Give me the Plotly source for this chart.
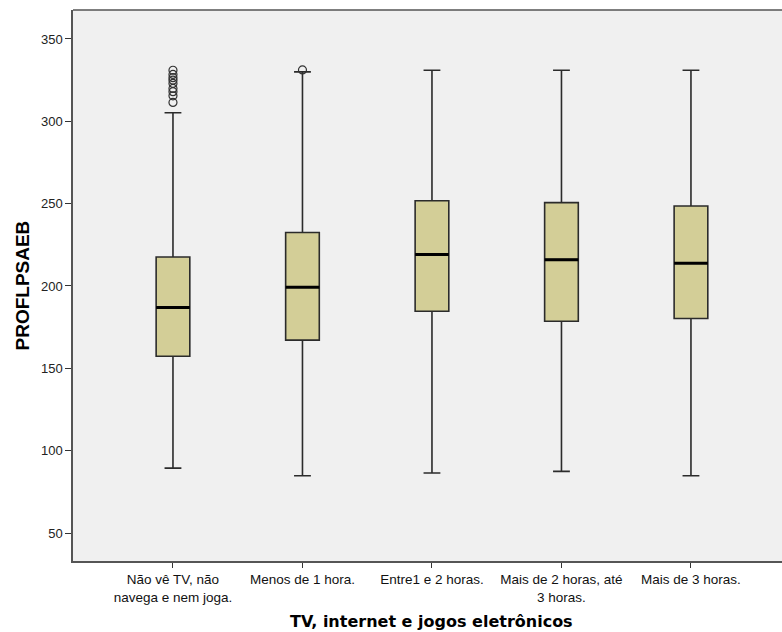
import plotly.graph_objects as go

# Boxplot summary of PROFLPSAEB by daily screen time
categories = [
    "Não vê TV, não<br>navega e nem joga.",
    "Menos de 1 hora.",
    "Entre1 e 2 horas.",
    "Mais de 2 horas, até<br>3 horas.",
    "Mais de 3 horas.",
]
lower_fence = [89.4, 84.8, 86.4, 87.4, 84.8]
q1 = [157.3, 167.1, 184.7, 178.6, 180.3]
median = [187.0, 199.3, 219.2, 216.0, 213.8]
q3 = [217.6, 232.5, 251.8, 250.6, 248.6]
upper_fence = [305.2, 330.0, 331.0, 331.0, 331.0]
outliers = [
    [311.5, 315.5, 318.0, 320.0, 323.0, 325.0, 326.5, 328.5, 331.0],
    [331.2],
    [],
    [],
    [],
]

positions = list(range(len(categories)))
box_width = 0.26

fig = go.Figure()

fig.add_trace(go.Box(
    x=positions,
    q1=q1,
    median=median,
    q3=q3,
    lowerfence=lower_fence,
    upperfence=upper_fence,
    width=box_width,
    whiskerwidth=0.5,
    fillcolor="#D3CE97",
    line=dict(color="#2b2b2b", width=1.6),
    boxpoints=False,
    hoverinfo="skip",
    showlegend=False,
))

# Thick median bars
for xi, m in zip(positions, median):
    fig.add_trace(go.Scatter(
        x=[xi - box_width / 2, xi + box_width / 2],
        y=[m, m],
        mode="lines",
        line=dict(color="#000000", width=3),
        hoverinfo="skip",
        showlegend=False,
    ))

# Outlying observations
for xi, pts in zip(positions, outliers):
    if pts:
        fig.add_trace(go.Scatter(
            x=[xi] * len(pts),
            y=pts,
            mode="markers",
            marker=dict(symbol="circle-open", size=8, color="#333333",
                        line=dict(width=1.2)),
            hoverinfo="skip",
            showlegend=False,
        ))

# Top frame line of the plot area
fig.add_shape(
    type="line", xref="paper", yref="paper",
    x0=0, x1=1, y0=1, y1=1,
    line=dict(color="#555555", width=1.5),
)

fig.add_annotation(
    text="<b>PROFLPSAEB</b>",
    xref="paper", yref="paper", x=0, y=0.5,
    xanchor="center", yanchor="middle",
    xshift=-51, textangle=-90,
    showarrow=False,
    font=dict(family="Liberation Sans, Arial", size=19, color="#000000"),
)
fig.add_annotation(
    text="<b>TV, internet e jogos eletrônicos</b>",
    xref="x", yref="paper", x=2, y=0,
    xanchor="center", yanchor="middle",
    yshift=-60,
    showarrow=False,
    font=dict(family="DejaVu Sans", size=16, color="#000000"),
)

fig.update_layout(
    width=782,
    height=632,
    margin=dict(l=73, r=0, t=10, b=71),
    paper_bgcolor="#FFFFFF",
    plot_bgcolor="#F0F0F0",
    font=dict(family="Liberation Sans, Arial", size=12, color="#222222"),
    xaxis=dict(
        range=[-0.772, 4.703],
        tickmode="array",
        tickvals=positions,
        ticktext=categories,
        tickangle=0,
        showgrid=False,
        zeroline=False,
        showline=True,
        linecolor="#555555",
        linewidth=1.5,
        mirror=False,
        ticks="outside",
        ticklen=5,
        tickcolor="#333333",
        tickfont=dict(family="Liberation Sans, Arial", size=13.5, color="#111111"),
    ),
    yaxis=dict(
        range=[33.0, 367.6],
        tickvals=[50, 100, 150, 200, 250, 300, 350],
        showgrid=False,
        zeroline=False,
        showline=True,
        linecolor="#555555",
        linewidth=1.5,
        mirror=False,
        ticks="outside",
        ticklen=6,
        tickcolor="#333333",
        tickfont=dict(family="Liberation Sans, Arial", size=13, color="#222222"),
    ),
)

fig.write_html("out.html", config={"displayModeBar": False})
